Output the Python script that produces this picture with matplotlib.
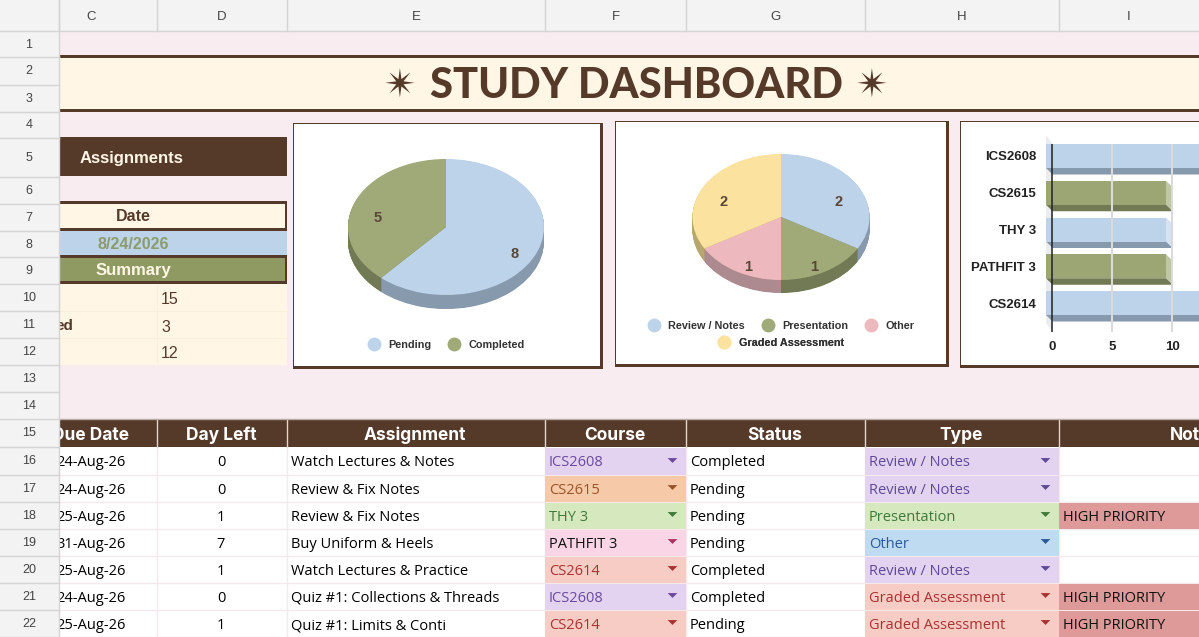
import numpy as np
import matplotlib
matplotlib.use('Agg')
import matplotlib.pyplot as plt
from matplotlib.lines import Line2D
from matplotlib.patches import Rectangle

# sheet labels
col_letters = ['C', 'D', 'E', 'F', 'G', 'H', 'I']
row_numbers = list(range(1, 23))

# summary block
assign_title = 'Assignments'
date_title = 'Date'
date_value = '8/24/2026'
summary_title = 'Summary'
summary_values = [15, 3, 12]

# table
table_headers = ['Due Date', 'Day Left', 'Assignment', 'Course', 'Status', 'Type', 'Not']
due_dates = ['24-Aug-26', '24-Aug-26', '25-Aug-26', '31-Aug-26', '25-Aug-26', '24-Aug-26', '25-Aug-26']
days_left = [0, 0, 1, 7, 1, 0, 1]
assignments = ['Watch Lectures & Notes', 'Review & Fix Notes', 'Review & Fix Notes', 'Buy Uniform & Heels',
               'Watch Lectures & Practice', 'Quiz #1: Collections & Threads', 'Quiz #1: Limits & Conti']
courses = ['ICS2608', 'CS2615', 'THY 3', 'PATHFIT 3', 'CS2614', 'ICS2608', 'CS2614']
statuses = ['Completed', 'Pending', 'Pending', 'Pending', 'Completed', 'Completed', 'Pending']
types = ['Review / Notes', 'Review / Notes', 'Presentation', 'Other', 'Review / Notes',
         'Graded Assessment', 'Graded Assessment']
notes = ['', '', 'HIGH PRIORITY', '', '', 'HIGH PRIORITY', 'HIGH PRIORITY']

# charts
status_labels = ['Pending', 'Completed']
status_counts = [8, 5]
type_labels = ['Review / Notes', 'Presentation', 'Other', 'Graded Assessment']
type_counts = [2, 1, 1, 2]
bar_courses = ['ICS2608', 'CS2615', 'THY 3', 'PATHFIT 3', 'CS2614']
bar_values = [15, 10, 10, 10, 15]

# colours
BROWN = '#553A2A'
CREAM = '#FFF6E6'
PINK_BG = '#F9ECF1'
HEAD_BG = '#F3F3F3'
GRID = '#D4D4D4'
BLUE, GREEN, PINK, YELLOW = '#BDD3EA', '#A0AA78', '#EDB9BF', '#FBE29F'
BLUE_D, GREEN_D, PINK_D, YELLOW_D = '#8799AD', '#717955', '#AD8A90', '#B8A66F'
chip_colors = {
    'ICS2608': ('#E3D3F0', '#6A4AA0'), 'CS2615': ('#F6C9A9', '#9A5428'),
    'THY 3': ('#D5E8BE', '#3F7A3A'), 'PATHFIT 3': ('#F9D5E5', '#111111'),
    'CS2614': ('#F7CCC4', '#A83232'), 'Review / Notes': ('#E3D3F0', '#5E4A96'),
    'Presentation': ('#D5E8BE', '#3F7A3A'), 'Other': ('#BEDBF2', '#2A5A9A'),
    'Graded Assessment': ('#F7CCC4', '#A83232'),
}
# dropdown arrows use the chip text colour, a bit softer for the black one
arrow_colors = {'PATHFIT 3': '#B0305F'}

SANS = 'Liberation Sans'
BODY = 'Open Sans'
HEAD = 'Inter'

W, H = 1199, 637
col_edges = [59, 157, 287, 545, 686, 865, 1059, 1199]
col_labels_x = [91, 221, 415, 615, 775, 961, 1199]
row_edges = [31, 57, 85, 112, 138, 177, 204, 231, 257, 284, 311, 338, 365, 392, 419, 447, 475, 502, 529, 556, 583, 610, 637]
ARROW = [(-1, 0.5), (1, 0.5), (0, -0.5)]

fig = plt.figure(figsize=(W / 100, H / 100), dpi=100)
ax = fig.add_axes([0, 0, 1, 1])
ax.set_xlim(0, W)
ax.set_ylim(H, 0)
ax.axis('off')


def rect(x0, y0, x1, y1, color, z=1, **kw):
    ax.add_patch(Rectangle((x0, y0), x1 - x0, y1 - y0, facecolor=color, edgecolor='none', zorder=z, **kw))


def put(x, y, s, size, color='black', ha='center', weight='normal', family=BODY, z=3):
    ax.text(x, y, s, fontsize=size, color=color, ha=ha, va='center_baseline', fontweight=weight, family=family, zorder=z)


# background
rect(59, 31, W, H, PINK_BG)

# title band
rect(59, 55, W, 112, BROWN)
rect(59, 58, W, 109, CREAM, z=2)
put(636.5, 82, 'STUDY DASHBOARD', 30, BROWN, weight='black', family='Lato')
for star_x in [400, 872]:
    put(star_x, 82, '\u2734', 28, BROWN, family='DejaVu Sans')

# summary block on the left
rect(59, 137, 287, 176, BROWN, z=2)
put(132, 157, assign_title, 12, CREAM, weight='bold', family=SANS)
rect(59, 201, 287, 231, BROWN, z=2)
rect(59, 204, 285, 228, CREAM, z=2)
put(133, 215, date_title, 11.5, BROWN, weight='bold', family=SANS)
rect(59, 231, 287, 256, BLUE, z=2)
put(133, 243, date_value, 11.6, '#8C9C6C', weight='bold', family=SANS)
rect(59, 255, 287, 284, BROWN, z=2)
rect(59, 258, 285, 281, '#8F9A63', z=2)
put(133, 269, summary_title, 12, CREAM, weight='bold', family=SANS)
rect(59, 284, 287, 365, CREAM, z=2)
for y in [311, 338]:
    ax.plot([59, 287], [y, y], color='#F8EFDD', lw=0.8, zorder=2)
ax.plot([157, 157], [284, 365], color='#F8EFDD', lw=0.8, zorder=2)
put(73, 325, 'ed', 11, BROWN, ha='right', weight='bold', family=SANS)
for y0, y1, v in zip(row_edges[9:12], row_edges[10:13], summary_values):
    put(161, (y0 + y1) / 2 + 1, str(v), 11.5, BROWN, ha='left', family=SANS)

# chart panels
for x0, y0, x1, y1 in [(293, 123, 603, 369), (615, 121, 949, 367), (960, 121, W + 5, 368)]:
    rect(x0, y0, x1, y1, BROWN, z=2)
    rect(x0 + 1, y0 + 1, x1 - 3, y1 - 3, 'white', z=2)

# table header
rect(59, 419, W, 447, BROWN, z=2)
for x in col_edges[1:-1]:
    ax.plot([x, x], [419, 447], color='#E2D5CC', lw=1, zorder=3)
ax.plot([59, W], [418.5, 418.5], color='#B7AAA2', lw=1, zorder=3)
for i, name in enumerate(table_headers):
    if i < 6:
        put(col_labels_x[i], 433, name, 12.5, 'white', weight='bold', family=HEAD)
    else:
        put(1170, 433, name, 12.5, 'white', ha='left', weight='bold', family=HEAD)

# table body
rect(59, 447, W, H, 'white', z=2)
body_rows = row_edges[15:]
for r in range(len(due_dates)):
    y0, y1 = body_rows[r], body_rows[r + 1]
    yc = (y0 + y1) / 2
    ax.plot([59, W], [y1, y1], color='#F6E9EC', lw=1, zorder=2.2)
    put(91, yc, due_dates[r], 10.5)
    put(221, yc, str(days_left[r]), 10.5)
    put(291, yc, assignments[r], 10.5, ha='left')
    put(690, yc, statuses[r], 10.5, ha='left')
    for key, x0, x1 in [(courses[r], 545, 686), (types[r], 865, 1059)]:
        bg, fg = chip_colors[key]
        rect(x0, y0 + 0.5, x1, y1 - 0.5, bg, z=2.5)
        put(x0 + 4, yc, key, 10.5, fg, ha='left')
        ax.plot([x1 - 14.5], [yc - 1.5], marker=ARROW, ms=7, color=arrow_colors.get(key, fg), mec='none', zorder=3)
    if notes[r]:
        rect(1059, y0 + 0.5, W, y1 - 0.5, '#DD9A98', z=2.5)
        put(1063, yc, notes[r], 10.5, '#111111', ha='left')
for x in col_edges[1:-1]:
    ax.plot([x, x], [447, H], color='#F6E9EC', lw=1, zorder=2.2)

# sheet headers on top so frozen columns cut the text
rect(0, 0, W, 31, HEAD_BG, z=5)
rect(0, 0, 59, H, HEAD_BG, z=5)
for x in col_edges[:-1]:
    ax.plot([x, x], [0, 31], color=GRID, lw=1, zorder=6)
ax.plot([59, 59], [0, H], color=GRID, lw=1, zorder=6)
ax.plot([0, W], [31, 31], color=GRID, lw=1, zorder=6)
for i, letter in enumerate(col_letters):
    x = 91 if i == 0 else (col_edges[i] + col_edges[i + 1]) / 2
    put(x, 15, letter, 9.5, '#444444', family=SANS, z=7)
for n, y0, y1 in zip(row_numbers, row_edges[:-1], row_edges[1:]):
    put(29, (y0 + y1) / 2 - 1, str(n), 9, '#444444', family=SANS, z=7)
    ax.plot([0, 59], [y1, y1], color=GRID, lw=1, zorder=6)


def to_fig(x0, y0, x1, y1):
    return [x0 / W, 1 - y1 / H, (x1 - x0) / W, (y1 - y0) / H]


def fake_3d_pie(cx, cy, rx, ry, depth, values, colors, darks):
    pad = 4
    pie_ax = fig.add_axes(to_fig(cx - rx - pad, cy - ry - pad, cx + rx + pad, cy + ry + depth + pad))
    off = depth / ry
    # stack of darker pies for the side wall
    for k in np.linspace(off, 0.01, int(depth) * 2):
        pie_ax.pie(values, colors=darks, startangle=90, counterclock=False, center=(0, -k))
    pie_ax.pie(values, colors=colors, startangle=90, counterclock=False)
    pie_ax.set_aspect('auto')
    pie_ax.set_xlim(-1 - pad / rx, 1 + pad / rx)
    pie_ax.set_ylim(-1 - (depth + pad) / ry, 1 + pad / ry)
    # value labels
    ends = np.cumsum(values) / np.sum(values)
    mids = ends - np.array(values) / np.sum(values) / 2
    for v, m in zip(values, mids):
        a = np.deg2rad(90 - 360 * m)
        pie_ax.text(0.75 * np.cos(a), 0.75 * np.sin(a) - 9 / ry, str(v), fontsize=10.5, fontweight='bold',
                    color='#5A4636', ha='center', va='center', family=SANS)
    return pie_ax


def dot_legend(labels, colors, x, y, cols, gap):
    handles = [Line2D([], [], ls='none', marker='o', ms=10, color=c, mec='none') for c in colors]
    leg = ax.legend(handles, labels, loc='center', bbox_to_anchor=(x, y), bbox_transform=ax.transData, ncols=cols,
                    frameon=False, handletextpad=0.75, columnspacing=gap, handlelength=1.2,
                    prop={'family': SANS, 'weight': 'bold', 'size': 7.8}, labelcolor='#333333', borderpad=0)
    leg.set_zorder(4)
    ax.add_artist(leg)


fake_3d_pie(446, 227, 98, 68, 14, status_counts, [BLUE, GREEN], [BLUE_D, GREEN_D])
dot_legend(status_labels, [BLUE, GREEN], 446, 345, 2, 1.5)

fake_3d_pie(781, 217, 88.5, 63, 13, type_counts, [BLUE, GREEN, PINK, YELLOW], [BLUE_D, GREEN_D, PINK_D, YELLOW_D])
dot_legend(type_labels[:3], [BLUE, GREEN, PINK], 781, 326, 3, 1.5)
dot_legend(type_labels[3:], [YELLOW], 781, 343, 1, 1.5)

# 3d looking horizontal bars
bar_ax = fig.add_axes(to_fig(1043, 130, W, 336))
bar_ax.set_facecolor('none')
unit_y = 36.75
unit_x = 12.0
bar_ax.set_xlim(-0.75, 12.25)
bar_ax.set_ylim((336 - 156) / unit_y, (130 - 156) / unit_y)
sx = 0.55
sy = 6.5 / unit_y
h = 24 / unit_y
top_back = (144 - 156) / unit_y
bot_back = (332 - 156) / unit_y
bar_ax.fill([-0.5, 0.05, 0.05, -0.5], [top_back - sy * 1.4, top_back, bot_back, bot_back - sy * 1.4], color='#E9EDF0', lw=0)
bar_ax.vlines([5, 10, 15], top_back, bot_back, color='#DADADA', lw=1.5)
bar_ax.vlines([0], top_back, bot_back, color='#222222', lw=1.1)
for i, v in enumerate(bar_values):
    c, d, s = (BLUE, BLUE_D, '#D6E2F0') if i % 2 == 0 else ('#9CA675', GREEN_D, '#BFC7A2')
    top, bot = i - h / 2, i + h / 2
    bar_ax.fill([v - 0.5, v + sx - 0.5, v + sx - 0.5, v - 0.5], [top, top + sy, bot + sy, bot], color=s, lw=0)
    bar_ax.fill([-0.5, v - 0.5, v + sx - 0.5, sx - 0.5], [bot, bot, bot + sy, bot + sy], color=d, lw=0)
    bar_ax.barh(i, v, left=-0.5, height=h, color=c, lw=0)
for spine in bar_ax.spines.values():
    spine.set_visible(False)
bar_ax.set_yticks(range(len(bar_courses)))
bar_ax.set_yticklabels(bar_courses, family=SANS, fontweight='bold', fontsize=9.5, color='#222222')
bar_ax.set_xticks([0, 5, 10])
bar_ax.set_xticklabels(['0', '5', '10'], family=SANS, fontweight='bold', fontsize=9.5, color='#222222')
bar_ax.tick_params(axis='both', length=0)
bar_ax.tick_params(axis='y', pad=5)
bar_ax.tick_params(axis='x', pad=3.5)

fig.savefig('out.png', dpi=100, facecolor='white')
